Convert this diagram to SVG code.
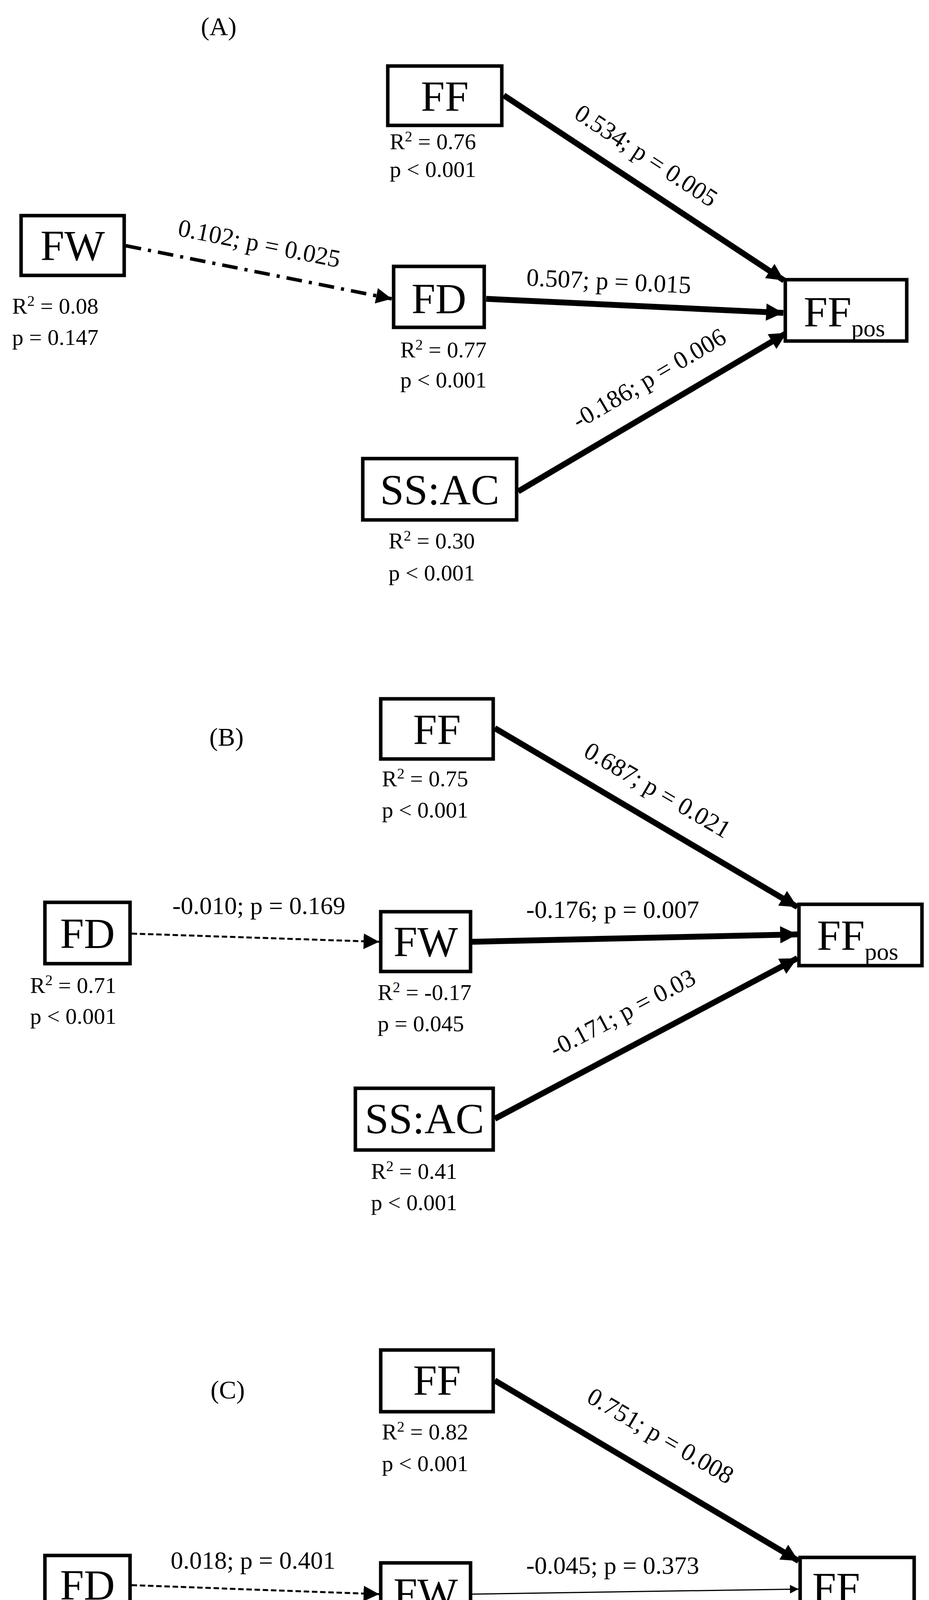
<svg xmlns="http://www.w3.org/2000/svg" width="2379" height="4809" viewBox="0 0 2379 4809">
<style>
text{font-family:"Liberation Serif","DejaVu Serif",serif;fill:#000}
.bx{fill:#fff;stroke:#000;stroke-width:9}
.nt{font-size:110px;text-anchor:middle}
.st{font-size:58px}
.lb{font-size:64px;text-anchor:middle}
.pl{font-size:66px;text-anchor:middle}
.thick{stroke:#000;stroke-width:15;fill:none;marker-end:url(#ah)}
.thin{stroke:#000;stroke-width:3;fill:none;marker-end:url(#as)}
.dash{stroke:#000;stroke-width:5;fill:none;stroke-dasharray:14 7;marker-end:url(#am)}
.dd{stroke:#000;stroke-width:9;fill:none;stroke-dasharray:40 18 8 18;marker-end:url(#am)}
</style>
<defs>
<marker id="ah" markerUnits="userSpaceOnUse" viewBox="0 0 10 10" refX="10" refY="5" markerWidth="48" markerHeight="44" orient="auto"><path d="M0,0L10,5L0,10z"/></marker>
<marker id="am" markerUnits="userSpaceOnUse" viewBox="0 0 10 10" refX="10" refY="5" markerWidth="40" markerHeight="40" orient="auto"><path d="M0,0L10,5L0,10z"/></marker>
<marker id="as" markerUnits="userSpaceOnUse" viewBox="0 0 10 10" refX="10" refY="5" markerWidth="26" markerHeight="22" orient="auto"><path d="M0,0L10,5L0,10z"/></marker>
</defs>
<g id="connectors">
<line class="thick" x1="1290" y1="244" x2="2008" y2="718"/>
<line class="thick" x1="1245" y1="765" x2="2006" y2="801"/>
<line class="thick" x1="1327" y1="1258" x2="2015" y2="852"/>
<line class="dd" x1="322" y1="629" x2="1003" y2="765"/>
<line class="thick" x1="1267" y1="1864" x2="2042" y2="2322"/>
<line class="thick" x1="1209" y1="2411" x2="2042" y2="2392"/>
<line class="thick" x1="1267" y1="2864" x2="2042" y2="2453"/>
<line class="dash" x1="337" y1="2390" x2="971" y2="2411"/>
<line class="thick" x1="1267" y1="3534" x2="2045" y2="3996"/>
<line class="thin" x1="1209" y1="4081" x2="2045" y2="4068"/>
<line class="thin" x1="1267" y1="4535" x2="2045" y2="4133"/>
<line class="dash" x1="337" y1="4058" x2="971" y2="4081"/>
<text class="lb" transform="translate(1643,416) rotate(33.3)">0.534; p = 0.005</text>
<text class="lb" transform="translate(660,644) rotate(11.2)">0.102; p = 0.025</text>
<text class="lb" transform="translate(1558,741) rotate(2.7)">0.507; p = 0.015</text>
<text class="lb" transform="translate(1673,987) rotate(-30.4)">-0.186; p = 0.006</text>
<text class="lb" transform="translate(1673,2041) rotate(30.3)">0.687; p = 0.021</text>
<text class="lb" x="663" y="2340">-0.010; p = 0.169</text>
<text class="lb" x="1569" y="2350">-0.176; p = 0.007</text>
<text class="lb" transform="translate(1604,2612) rotate(-27.7)">-0.171; p = 0.03</text>
<text class="lb" transform="translate(1681,3694) rotate(30.4)">0.751; p = 0.008</text>
<text class="lb" x="648" y="4016">0.018; p = 0.401</text>
<text class="lb" x="1569" y="4029">-0.045; p = 0.373</text>
<text class="lb" transform="translate(1609,4279) rotate(-27.1)">0.047; p = 0.230</text>
</g>
<text class="pl" x="560" y="90">(A)</text>
<text class="pl" x="580" y="1909">(B)</text>
<text class="pl" x="583" y="3580">(C)</text>
<g id="A_FF"><rect class="bx" x="993" y="169" width="292" height="152"/><text class="nt" x="1139" y="284">FF</text><text class="st" x="998" y="382">R<tspan font-size="38" dy="-20">2</tspan><tspan dy="20"> = 0.76</tspan></text><text class="st" x="998" y="453">p &lt; 0.001</text></g>
<g id="A_FW"><rect class="bx" x="54" y="552" width="264" height="153"/><text class="nt" x="186" y="666">FW</text><text class="st" x="31" y="803">R<tspan font-size="38" dy="-20">2</tspan><tspan dy="20"> = 0.08</tspan></text><text class="st" x="31" y="883">p = 0.147</text></g>
<g id="A_FD"><rect class="bx" x="1008" y="682" width="232" height="156"/><text class="nt" x="1124" y="802">FD</text><text class="st" x="1025" y="915">R<tspan font-size="38" dy="-20">2</tspan><tspan dy="20"> = 0.77</tspan></text><text class="st" x="1025" y="992">p &lt; 0.001</text></g>
<g id="A_FFpos"><rect class="bx" x="2011" y="716" width="311" height="157"/><text x="2058" y="836" font-size="110">FF<tspan font-size="62" dy="25">pos</tspan></text></g>
<g id="A_SSAC"><rect class="bx" x="929" y="1174" width="394" height="157"/><text class="nt" x="1126" y="1291">SS:AC</text><text class="st" x="995" y="1404">R<tspan font-size="38" dy="-20">2</tspan><tspan dy="20"> = 0.30</tspan></text><text class="st" x="995" y="1486">p &lt; 0.001</text></g>
<g id="B_FF"><rect class="bx" x="975" y="1789" width="288" height="154"/><text class="nt" x="1119" y="1905">FF</text><text class="st" x="978" y="2013">R<tspan font-size="38" dy="-20">2</tspan><tspan dy="20"> = 0.75</tspan></text><text class="st" x="978" y="2093">p &lt; 0.001</text></g>
<g id="B_FD"><rect class="bx" x="115" y="2310" width="218" height="157"/><text class="nt" x="224" y="2427">FD</text><text class="st" x="77" y="2542">R<tspan font-size="38" dy="-20">2</tspan><tspan dy="20"> = 0.71</tspan></text><text class="st" x="77" y="2621">p &lt; 0.001</text></g>
<g id="B_FW"><rect class="bx" x="975" y="2334" width="230" height="153"/><text class="nt" x="1090" y="2448">FW</text><text class="st" x="967" y="2560">R<tspan font-size="38" dy="-20">2</tspan><tspan dy="20"> = -0.17</tspan></text><text class="st" x="967" y="2640">p = 0.045</text></g>
<g id="B_FFpos"><rect class="bx" x="2046" y="2315" width="315" height="157"/><text x="2092" y="2432" font-size="110">FF<tspan font-size="62" dy="25">pos</tspan></text></g>
<g id="B_SSAC"><rect class="bx" x="910" y="2786" width="353" height="158"/><text class="nt" x="1087" y="2901">SS:AC</text><text class="st" x="950" y="3018">R<tspan font-size="38" dy="-20">2</tspan><tspan dy="20"> = 0.41</tspan></text><text class="st" x="950" y="3098">p &lt; 0.001</text></g>
<g id="C_FF"><rect class="bx" x="975" y="3456" width="288" height="158"/><text class="nt" x="1119" y="3571">FF</text><text class="st" x="978" y="3685">R<tspan font-size="38" dy="-20">2</tspan><tspan dy="20"> = 0.82</tspan></text><text class="st" x="978" y="3766">p &lt; 0.001</text></g>
<g id="C_FD"><rect class="bx" x="115" y="3982" width="218" height="154"/><text class="nt" x="224" y="4095">FD</text><text class="st" x="77" y="4211">R<tspan font-size="38" dy="-20">2</tspan><tspan dy="20"> = 0.81</tspan></text><text class="st" x="77" y="4293">p &lt; 0.001</text></g>
<g id="C_FW"><rect class="bx" x="975" y="4001" width="230" height="156"/><text class="nt" x="1090" y="4116">FW</text><text class="st" x="983" y="4235">R<tspan font-size="38" dy="-20">2</tspan><tspan dy="20"> = 0.03</tspan></text><text class="st" x="983" y="4318">p = 0.686</text></g>
<g id="C_FFpos"><rect class="bx" x="2049" y="3987" width="292" height="153"/><text x="2080" y="4102" font-size="110">FF<tspan font-size="62" dy="25">pos</tspan></text></g>
<g id="C_SSAC"><rect class="bx" x="910" y="4459" width="353" height="154"/><text class="nt" x="1087" y="4574">SS:AC</text><text class="st" x="955" y="4683">R<tspan font-size="38" dy="-20">2</tspan><tspan dy="20"> = 0.52</tspan></text><text class="st" x="955" y="4766">p &lt; 0.001</text></g>
</svg>
